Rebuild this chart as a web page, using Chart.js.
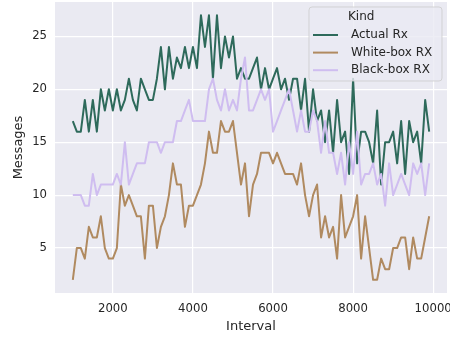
<!DOCTYPE html>
<html>
<head>
<meta charset="utf-8">
<script src="https://cdn.jsdelivr.net/npm/chart.js@4.4.1/dist/chart.umd.min.js"></script>
<style>
  html, body { margin: 0; padding: 0; background: #ffffff; }
  #wrap { width: 450px; height: 337px; }
</style>
</head>
<body>
<div id="wrap"><canvas id="c" width="450" height="337"></canvas></div>
<script>
// ---- data ----
const intervals = [1000,1100,1200,1300,1400,1500,1600,1700,1800,1900,
  2000,2100,2200,2300,2400,2500,2600,2700,2800,2900,
  3000,3100,3200,3300,3400,3500,3600,3700,3800,3900,
  4000,4100,4200,4300,4400,4500,4600,4700,4800,4900,
  5000,5100,5200,5300,5400,5500,5600,5700,5800,5900,
  6000,6100,6200,6300,6400,6500,6600,6700,6800,6900,
  7000,7100,7200,7300,7400,7500,7600,7700,7800,7900,
  8000,8100,8200,8300,8400,8500,8600,8700,8800,8900,
  9000,9100,9200,9300,9400,9500,9600,9700,9800,9900];

const actualRx = [17,16,16,19,16,19,16,20,18,20,
  18,20,18,19,21,19,18,21,20,19,
  19,21,24,20,24,21,23,22,24,22,
  24,22,27,24,27,21,27,22,25,23,
  25,21,22,21,21,22,23,20,22,20,
  21,22,20,21,19,21,21,18,21,16,
  20,17,18,15,18,14,19,15,16,12,
  21,13,16,16,15,13,18,11,15,15,
  16,13,17,12,17,15,16,13,19,16];

const whiteBoxRx = [2,5,5,4,7,6,6,8,5,4,
  4,5,11,9,10,9,8,8,4,9,
  9,5,7,8,10,13,11,11,7,9,
  9,10,11,13,16,14,14,17,16,16,
  17,14,11,13,8,11,12,14,14,14,
  13,14,13,12,12,12,11,13,10,8,
  10,11,6,8,6,7,4,10,6,7,
  8,10,4,8,5,2,2,4,3,3,
  5,5,6,6,3,6,4,4,6,8];

const blackBoxRx = [10,10,10,9,9,12,10,11,11,11,
  11,12,11,15,11,12,13,13,13,15,
  15,15,14,15,15,15,17,17,18,19,
  17,17,17,17,20,21,19,18,20,18,
  19,18,21,23,18,18,19,20,19,20,
  16,17,18,19,20,18,16,18,16,16,
  18,17,14,17,14,14,12,14,11,15,
  12,16,11,12,12,13,11,12,9,13,
  10,11,12,11,10,13,12,13,10,13];

const seriesLabels = ["Actual Rx", "White-box RX", "Black-box RX"];
const seriesColors = ["#2e6a5b", "#b08a60", "#cfbdf0"];
const legendTitle = "Kind";
const xTickValues = [2000, 4000, 6000, 8000, 10000];
const yTickValues = [5, 10, 15, 20, 25];
const xTitle = "Interval";
const yTitle = "Messages";

// ---- chart ----
const FONT = "'DejaVu Sans', 'Liberation Sans', sans-serif";
const TEXT = "#262626";

function pts(vals) { return intervals.map((x, i) => ({ x: x, y: vals[i] })); }
const seriesValues = [actualRx, whiteBoxRx, blackBoxRx];

const bgPlugin = {
  id: 'bg',
  beforeDraw(chart) {
    const { ctx, chartArea: a } = chart;
    ctx.save();
    ctx.fillStyle = '#EAEAF2';
    ctx.fillRect(a.left, a.top, a.right - a.left, a.bottom - a.top);
    ctx.restore();
  }
};

const legendPlugin = {
  id: 'innerLegend',
  afterDatasetsDraw(chart) {
    const ctx = chart.ctx;
    const x0 = 309, y0 = 7, w = 133, h = 74, r = 3;
    ctx.save();
    ctx.beginPath();
    ctx.moveTo(x0 + r, y0);
    ctx.arcTo(x0 + w, y0, x0 + w, y0 + h, r);
    ctx.arcTo(x0 + w, y0 + h, x0, y0 + h, r);
    ctx.arcTo(x0, y0 + h, x0, y0, r);
    ctx.arcTo(x0, y0, x0 + w, y0, r);
    ctx.closePath();
    ctx.fillStyle = 'rgba(234,234,242,0.8)';
    ctx.fill();
    ctx.strokeStyle = 'rgba(204,204,204,0.8)';
    ctx.lineWidth = 1;
    ctx.stroke();

    ctx.fillStyle = TEXT;
    ctx.textBaseline = 'middle';
    ctx.textAlign = 'left';
    ctx.font = "12px " + FONT;
    ctx.fillText(legendTitle, 348, 17);

    chart.data.datasets.forEach((ds, i) => {
      const yy = 35 + i * 17.6;
      ctx.strokeStyle = ds.borderColor;
      ctx.lineWidth = 2;
      ctx.beginPath();
      ctx.moveTo(313, yy);
      ctx.lineTo(338, yy);
      ctx.stroke();
      ctx.fillStyle = TEXT;
      ctx.fillText(ds.label, 351, yy);
    });
    ctx.restore();
  }
};

function zeroPad(s) { s.paddingLeft = 0; s.paddingRight = 0; s.paddingTop = 0; s.paddingBottom = 0; }

new Chart(document.getElementById('c'), {
  type: 'line',
  data: {
    datasets: seriesLabels.map((lab, k) => ({
      label: lab,
      data: pts(seriesValues[k]),
      borderColor: seriesColors[k],
      backgroundColor: seriesColors[k],
      borderWidth: 2,
      pointRadius: 0,
      tension: 0,
      fill: false,
      borderJoinStyle: 'round',
      order: 3 - k
    }))
  },
  options: {
    responsive: false,
    animation: false,
    events: [],
    layout: { padding: { left: 0, right: 3, top: 2, bottom: 0 } },
    plugins: { legend: { display: false }, tooltip: { enabled: false } },
    scales: {
      x: {
        type: 'linear',
        min: 555,
        max: 10345,
        afterBuildTicks(s) { s.ticks = xTickValues.map(v => ({ value: v })); },
        afterFit(s) { s.height = 44; zeroPad(s); },
        grid: { color: '#ffffff', lineWidth: 1.2, drawTicks: false },
        border: { display: false },
        ticks: {
          callback: v => String(v),
          color: TEXT,
          font: { family: FONT, size: 11.7 },
          padding: 9,
          maxRotation: 0,
          autoSkip: false
        },
        title: {
          display: true, text: xTitle, color: TEXT,
          font: { family: FONT, size: 13 },
          padding: { top: 0, bottom: 3 }
        }
      },
      y: {
        type: 'linear',
        min: 0.75,
        max: 28.25,
        afterBuildTicks(s) { s.ticks = yTickValues.map(v => ({ value: v })); },
        afterFit(s) { s.width = 55; zeroPad(s); },
        grid: { color: '#ffffff', lineWidth: 1.2, drawTicks: false },
        border: { display: false },
        ticks: {
          callback: v => String(v),
          color: TEXT,
          font: { family: FONT, size: 11.7 },
          padding: 8,
          autoSkip: false
        },
        title: {
          display: true, text: yTitle, color: TEXT,
          font: { family: FONT, size: 13 },
          padding: { top: 10.5, bottom: 0 }
        }
      }
    }
  },
  plugins: [bgPlugin, legendPlugin]
});
</script>
</body>
</html>
